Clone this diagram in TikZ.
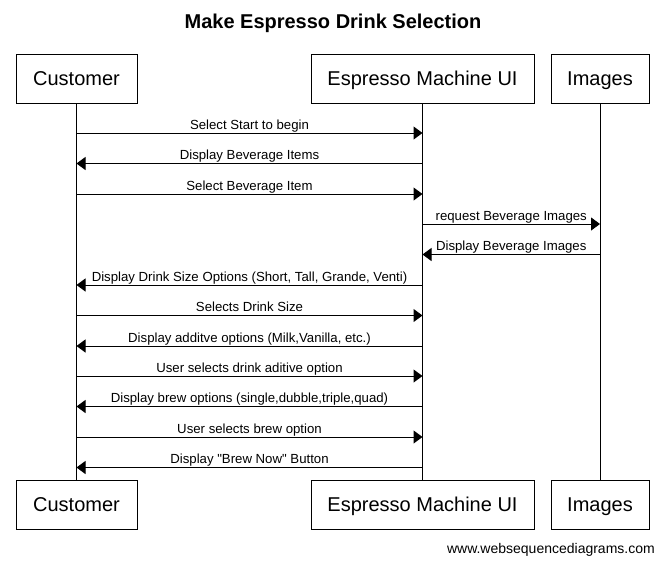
\documentclass[tikz,border=0pt]{standalone}
\usepackage{fontspec}
\setmainfont{Liberation Sans}[Ligatures=TeXOff]
\usetikzlibrary{arrows.meta}
\begin{document}
\begin{tikzpicture}[x=1pt,y=-1pt,
  part/.style={draw,line width=1pt,minimum height=49pt,inner sep=0pt,text height=14.3pt,text depth=0pt,font=\fontsize{20}{24}\selectfont},
  life/.style={line width=1pt},
  msg/.style={line width=1pt,-{Triangle[length=9pt,width=13pt]}},
  lbl/.style={font=\fontsize{13.2}{15}\selectfont,anchor=base,inner sep=0pt}]
\useasboundingbox[fill=white] (0,0) rectangle (665,563);
\node[font=\fontsize{20}{24}\selectfont\bfseries,anchor=base,inner sep=0pt] (title) at (333,28) {Make Espresso Drink Selection};
\node[part,minimum width=121pt] (cT) at (76.5,78.5) {Customer};
\node[part,minimum width=223pt] (eT) at (422.5,78.5) {Espresso Machine UI};
\node[part,minimum width=98pt] (iT) at (600,78.5) {Images};
\node[part,minimum width=121pt] (cB) at (76.5,504.5) {Customer};
\node[part,minimum width=223pt] (eB) at (422.5,504.5) {Espresso Machine UI};
\node[part,minimum width=98pt] (iB) at (600,504.5) {Images};
\draw[life] (cT.south) -- (cB.north);
\draw[life] (eT.south) -- (eB.north);
\draw[life] (iT.south) -- (iB.north);
\foreach \i/\y/\a/\b/\t in {
  1/133/cT/eT/{Select Start to begin},
  2/163.5/eT/cT/{Display Beverage Items},
  3/194/cT/eT/{Select Beverage Item},
  4/224/eT/iT/{request Beverage Images},
  5/254.5/iT/eT/{Display Beverage Images},
  6/285/eT/cT/{Display Drink Size Options (Short, Tall, Grande, Venti)},
  7/315.5/cT/eT/{Selects Drink Size},
  8/346/eT/cT/{Display additve options (Milk,Vanilla, etc.)},
  9/376/cT/eT/{User selects drink aditive option},
  10/406.5/eT/cT/{Display brew options (single,dubble,triple,quad)},
  11/437/cT/eT/{User selects brew option},
  12/467.5/eT/cT/{Display "Brew Now" Button}} {
  \coordinate (m\i) at (0,\y);
  \draw[msg] (\a.south |- m\i) -- (\b.south |- m\i)
    node[lbl,pos=0.5,yshift=4pt] (l\i) {\t};
}
\node[font=\fontsize{14}{16}\selectfont,anchor=base east,inner sep=0pt] (foot) at (655,553) {www.websequencediagrams.com};
\end{tikzpicture}
\end{document}
